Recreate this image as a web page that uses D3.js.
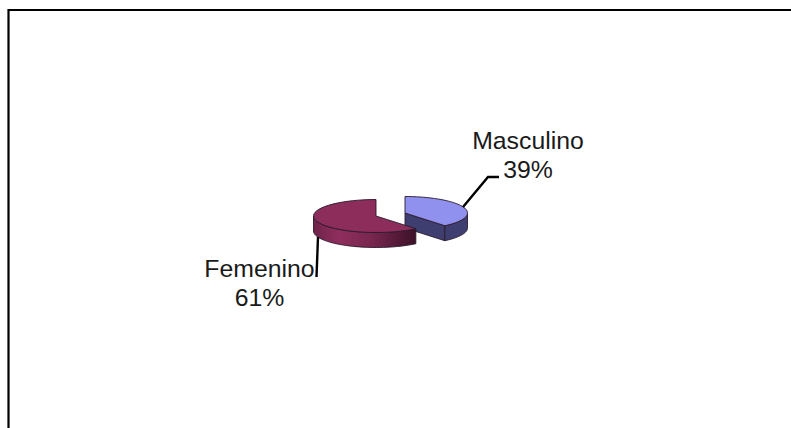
<!DOCTYPE html>
<html>
<head>
<meta charset="utf-8">
<script src="https://cdnjs.cloudflare.com/ajax/libs/d3/7.8.5/d3.min.js"></script>
<style>
html, body { margin: 0; padding: 0; background: #fff; }
svg { display: block; }
text { font-family: "Liberation Sans", Arial, sans-serif; font-size: 24.8px; fill: #1a1a1a; }
</style>
</head>
<body>
<svg id="chart" width="791" height="428"></svg>
<script>
const categories = ["Masculino", "Femenino"]
const values = [39, 61]
const topColors = ["#9090ee", "#8c2d5c"]
const wallColors = ["#3e3e70", "#8c2d5c"]

const svg = d3.select("#chart")

// frame: only top and left are in the picture, the rest is cut off
svg.append("path")
  .attr("d", "M8.5,428V10H791")
  .attr("fill", "none")
  .attr("stroke", "#000")
  .attr("stroke-width", 2.2)

// pie is drawn as a flattened disc, each slice pulled apart horizontally
const rx = 62.5
const ry = 16.5
const depth = 15
const centers = [[405, 213], [376, 216]]

const slices = d3.pie().sort(null)(values)

const px = (c, a) => c[0] + rx * Math.sin(a)
const py = (c, a) => c[1] - ry * Math.cos(a)

const rimPoints = (c, a0, a1, dy = 0) =>
  d3.range(0, 41).map((i) => {
    const a = a0 + ((a1 - a0) * i) / 40
    return [px(c, a), py(c, a) + dy]
  })

const line = d3.line()

const defs = svg.append("defs")
const wallGrad = defs.append("linearGradient").attr("id", "wallFem")
wallGrad.selectAll("stop")
  .data([[0, "#6f2349"], [0.25, "#8f2e5e"], [0.55, "#7a2750"], [1, "#3c1128"]])
  .join("stop")
  .attr("offset", (d) => d[0])
  .attr("stop-color", (d) => d[1])

slices.forEach((s, i) => {
  const c = centers[i]
  const g = svg.append("g").attr("stroke", "#2a1a2a").attr("stroke-width", 0.9)
  const front0 = Math.max(s.startAngle, Math.PI / 2)
  const front1 = Math.min(s.endAngle, (Math.PI * 3) / 2)

  // cut face of the slice that looks to the viewer
  if (i === 0) {
    const e = [px(c, s.endAngle), py(c, s.endAngle)]
    g.append("path")
      .attr("d", line([c, e, [e[0], e[1] + depth], [c[0], c[1] + depth]]) + "Z")
      .attr("fill", wallColors[i])
  }

  // outer wall
  const wall = rimPoints(c, front0, front1).concat(rimPoints(c, front1, front0, depth))
  g.append("path")
    .attr("d", line(wall) + "Z")
    .attr("fill", i === 1 ? "url(#wallFem)" : wallColors[i])

  // top face
  const top = [c].concat(rimPoints(c, s.startAngle, s.endAngle))
  g.append("path")
    .attr("d", line(top) + "Z")
    .attr("fill", topColors[i])
})

// leader lines
const leaders = [
  [[463, 207], [488, 177], [499, 177]],
  [[318, 237], [316.5, 277]],
]
svg.selectAll("path.leader")
  .data(leaders)
  .join("path")
  .attr("class", "leader")
  .attr("d", (d) => line(d))
  .attr("fill", "none")
  .attr("stroke", "#000")
  .attr("stroke-width", 2.4)

// labels
const labelPos = [[528, 149], [259.5, 277]]
categories.forEach((name, i) => {
  const t = svg.append("text").attr("text-anchor", "middle")
  t.append("tspan").attr("x", labelPos[i][0]).attr("y", labelPos[i][1]).text(name)
  t.append("tspan").attr("x", labelPos[i][0]).attr("y", labelPos[i][1] + 28.5).text(values[i] + "%")
})
</script>
</body>
</html>
